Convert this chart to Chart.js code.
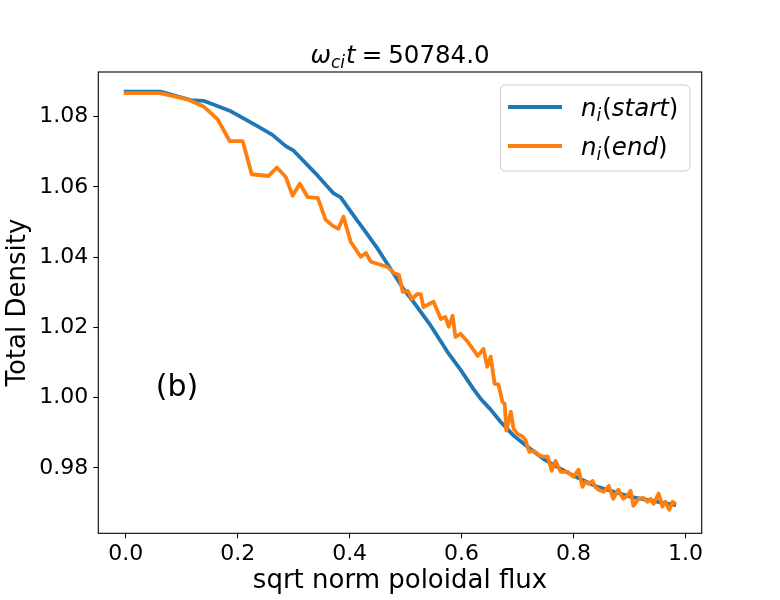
<!DOCTYPE html>
<html>
<head>
<meta charset="utf-8">
<script src="https://cdn.jsdelivr.net/npm/chart.js@4.4.1/dist/chart.umd.min.js"></script>
<style>
  html, body { margin: 0; padding: 0; background: #ffffff; }
  #wrap { width: 780px; height: 600px; }
</style>
</head>
<body>
<div id="wrap"><canvas id="c" width="780" height="600"></canvas></div>
<script>
// ---- data ----
const startX = [0.000, 0.062, 0.116, 0.139, 0.188, 0.236, 0.262, 0.286, 0.300, 0.343,
                0.371, 0.384, 0.414, 0.425, 0.450, 0.473, 0.496, 0.514, 0.545, 0.575,
                0.598, 0.621, 0.634, 0.652, 0.670, 0.693, 0.723, 0.746, 0.773, 0.800,
                0.843, 0.902, 0.946, 0.980];
const startY = [1.0871, 1.0871, 1.0847, 1.0845, 1.0815, 1.0772, 1.0748, 1.0716, 1.0703, 1.0632,
                1.0582, 1.0570, 1.0503, 1.0480, 1.0424, 1.0367, 1.0310, 1.0273, 1.0205, 1.0130,
                1.0080, 1.0025, 0.9997, 0.9966, 0.9931, 0.9892, 0.9854, 0.9826, 0.9801, 0.9778,
                0.9746, 0.9718, 0.9705, 0.9695];

const endX = [0.000, 0.061, 0.111, 0.139, 0.164, 0.186, 0.209, 0.225, 0.255, 0.270,
              0.286, 0.298, 0.311, 0.325, 0.343, 0.357, 0.370, 0.380, 0.389, 0.402,
              0.420, 0.429, 0.438, 0.468, 0.479, 0.488, 0.495, 0.504, 0.511, 0.521,
              0.527, 0.532, 0.550, 0.563, 0.571, 0.577, 0.584, 0.589, 0.598, 0.611,
              0.629, 0.639, 0.646, 0.652, 0.659, 0.666, 0.673, 0.677, 0.680, 0.688,
              0.693, 0.700, 0.709, 0.714, 0.721, 0.729, 0.738, 0.745, 0.754, 0.761,
              0.768, 0.777, 0.789, 0.800, 0.809, 0.816, 0.821, 0.827, 0.834, 0.839,
              0.845, 0.854, 0.863, 0.871, 0.880, 0.889, 0.896, 0.902, 0.907, 0.916,
              0.925, 0.932, 0.938, 0.943, 0.952, 0.959, 0.964, 0.971, 0.977, 0.980];
const endY = [1.0867, 1.0867, 1.0849, 1.0829, 1.0793, 1.0730, 1.0730, 1.0636, 1.0631, 1.0655,
              1.0628, 1.0575, 1.0609, 1.0571, 1.0569, 1.0507, 1.0489, 1.0481, 1.0515, 1.0443,
              1.0401, 1.0412, 1.0387, 1.0372, 1.0355, 1.0350, 1.0301, 1.0304, 1.0281, 1.0295,
              1.0295, 1.0258, 1.0273, 1.0224, 1.0230, 1.0202, 1.0233, 1.0173, 1.0182, 1.0159,
              1.0119, 1.0139, 1.0088, 1.0117, 1.0040, 1.0037, 0.9988, 0.9983, 0.9906, 0.9960,
              0.9911, 0.9897, 0.9889, 0.9880, 0.9846, 0.9849, 0.9837, 0.9832, 0.9832, 0.9792,
              0.9820, 0.9789, 0.9789, 0.9775, 0.9795, 0.9746, 0.9760, 0.9755, 0.9763, 0.9746,
              0.9738, 0.9732, 0.9749, 0.9712, 0.9738, 0.9712, 0.9721, 0.9735, 0.9692, 0.9712,
              0.9715, 0.9704, 0.9712, 0.9698, 0.9727, 0.9690, 0.9704, 0.9681, 0.9704, 0.9700];

const xTicks = [0.0, 0.2, 0.4, 0.6, 0.8, 1.0];
const yTicks = [0.98, 1.00, 1.02, 1.04, 1.06, 1.08];

const seriesNames = ['start', 'end'];
const titleValue = '50784.0';
const panelLabel = '(b)';
const xLabel = 'sqrt norm poloidal flux';
const yLabel = 'Total Density';

// ---- styling ----
const FONT = 'DejaVu Sans';
const BLUE = '#1f77b4';
const ORANGE = '#ff7f0e';

function toPts(xs, ys) { return xs.map((x, i) => ({ x: x, y: ys[i] })); }

function drawParts(ctx, parts, x, baseline, align) {
  let total = 0;
  parts.forEach(p => { ctx.font = p.f; p.w = ctx.measureText(p.t).width; total += p.w + (p.gap || 0); });
  let cx = align === 'center' ? x - total / 2 : x;
  parts.forEach(p => {
    ctx.font = p.f;
    ctx.fillText(p.t, cx, baseline + (p.dy || 0));
    cx += p.w + (p.gap || 0);
  });
}

const decor = {
  id: 'decor',
  afterDraw(chart) {
    const ctx = chart.ctx;
    const a = chart.chartArea;
    ctx.save();
    // frame
    ctx.strokeStyle = '#000';
    ctx.lineWidth = 1.1;
    ctx.strokeRect(a.left, a.top, a.right - a.left, a.bottom - a.top);
    ctx.fillStyle = '#000';
    ctx.textAlign = 'left';
    ctx.textBaseline = 'alphabetic';
    // title
    const cx = (a.left + a.right) / 2;
    drawParts(ctx, [
      { t: 'ω', f: `italic 24.5px "${FONT}"` },
      { t: 'ci', f: `italic 17px "${FONT}"`, dy: 5, gap: 1 },
      { t: 't', f: `italic 24.5px "${FONT}"`, gap: 6 },
      { t: '=', f: `24.5px "${FONT}"`, gap: 6 },
      { t: titleValue, f: `24.5px "${FONT}"` }
    ], cx, 63, 'center');
    // panel label
    ctx.font = `30px "${FONT}"`;
    ctx.textAlign = 'center';
    ctx.fillText(panelLabel, 177, 396);
    // legend
    const lx = 500.5, ly = 85, lw = 189.5, lh = 86, r = 5;
    ctx.beginPath();
    ctx.moveTo(lx + r, ly);
    ctx.arcTo(lx + lw, ly, lx + lw, ly + lh, r);
    ctx.arcTo(lx + lw, ly + lh, lx, ly + lh, r);
    ctx.arcTo(lx, ly + lh, lx, ly, r);
    ctx.arcTo(lx, ly, lx + lw, ly, r);
    ctx.closePath();
    ctx.fillStyle = 'rgba(255,255,255,0.8)';
    ctx.fill();
    ctx.strokeStyle = '#cccccc';
    ctx.lineWidth = 1;
    ctx.stroke();
    const rows = [{ c: BLUE, y: 107, name: seriesNames[0] }, { c: ORANGE, y: 146, name: seriesNames[1] }];
    rows.forEach(row => {
      ctx.strokeStyle = row.c;
      ctx.lineWidth = 4;
      ctx.lineCap = 'butt';
      ctx.beginPath();
      ctx.moveTo(508, row.y);
      ctx.lineTo(562, row.y);
      ctx.stroke();
      ctx.fillStyle = '#000';
      ctx.textAlign = 'left';
      drawParts(ctx, [
        { t: 'n', f: `italic 24.5px "${FONT}"` },
        { t: 'i', f: `italic 17px "${FONT}"`, dy: 5, gap: 1 },
        { t: '(', f: `24.5px "${FONT}"` },
        { t: row.name, f: `italic 24.5px "${FONT}"` },
        { t: ')', f: `24.5px "${FONT}"` }
      ], 581, row.y + 8.5, 'left');
    });
    ctx.restore();
  }
};

new Chart(document.getElementById('c'), {
  type: 'line',
  data: {
    datasets: [
      { label: 'start', data: toPts(startX, startY), borderColor: BLUE, borderWidth: 3.8,
        pointRadius: 0, tension: 0, fill: false, order: 2,
        borderJoinStyle: 'round', borderCapStyle: 'square' },
      { label: 'end', data: toPts(endX, endY), borderColor: ORANGE, borderWidth: 3.8,
        pointRadius: 0, tension: 0, fill: false, order: 1,
        borderJoinStyle: 'round', borderCapStyle: 'square' }
    ]
  },
  options: {
    responsive: false,
    animation: false,
    devicePixelRatio: 1,
    layout: { padding: { left: 0, right: 78.3, top: 72, bottom: 0 } },
    plugins: { legend: { display: false }, title: { display: false }, tooltip: { enabled: false } },
    scales: {
      x: {
        type: 'linear',
        min: -0.049, max: 1.029,
        afterFit(s) { s.height = 66.7; },
        afterBuildTicks(s) { s.ticks = xTicks.map(v => ({ value: v })); },
        grid: { display: true, drawOnChartArea: false, drawTicks: true, tickLength: 5, tickColor: '#000', tickWidth: 1.1 },
        border: { display: false },
        ticks: { color: '#000', font: { family: FONT, size: 22 }, padding: 3, maxRotation: 0,
                 callback: v => Number(v).toFixed(1) },
        title: { display: true, text: xLabel, color: '#000', font: { family: FONT, size: 26 },
                 padding: { top: 0, bottom: 3.4 } }
      },
      y: {
        type: 'linear',
        min: 0.9614, max: 1.0927,
        afterFit(s) { s.width = 98.3; },
        afterBuildTicks(s) { s.ticks = yTicks.map(v => ({ value: v })); },
        grid: { display: true, drawOnChartArea: false, drawTicks: true, tickLength: 5, tickColor: '#000', tickWidth: 1.1 },
        border: { display: false },
        ticks: { color: '#000', font: { family: FONT, size: 22 }, padding: 5,
                 callback: v => Number(v).toFixed(2) },
        title: { display: true, text: yLabel, color: '#000', font: { family: FONT, size: 26 },
                 padding: { top: 2.4, bottom: 0 } }
      }
    }
  },
  plugins: [decor]
});
</script>
</body>
</html>
